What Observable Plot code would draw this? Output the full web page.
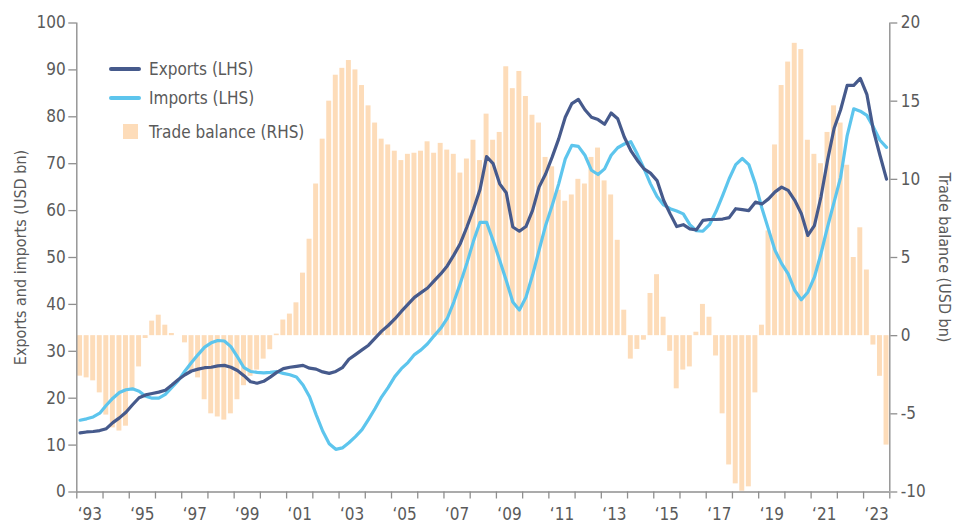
<!DOCTYPE html>
<html>
<head>
<meta charset="utf-8">
<script src="https://cdn.jsdelivr.net/npm/d3@7"></script>
<script src="https://cdn.jsdelivr.net/npm/@observablehq/plot@0.6"></script>
<style>
  html, body { margin: 0; padding: 0; background: #fff; }
  #wrap { position: relative; width: 954px; height: 523px; font-family: "Liberation Sans Narrow", "DejaVu Sans Condensed", "Roboto", sans-serif; color: #5a5a5a; }
  .lg-line { position: absolute; width: 32px; height: 4px; border-radius: 2px; }
  .lg-box { position: absolute; width: 15px; height: 15px; }
  .lg-text { position: absolute; font-size: 17px; line-height: 20px; white-space: nowrap; }
</style>
</head>
<body>
<div id="wrap"></div>
<script>
// ---- data (quarterly, Q1 1993 .. Q4 2023) ----
const startYear = 1993;
const exportsLHS = [
  12.6, 12.8, 12.9, 13.1, 13.5, 14.8, 15.8, 17.0, 18.6, 20.1, 20.7, 21.0,
  21.3, 21.7, 22.8, 24.0, 25.0, 25.8, 26.2, 26.5, 26.6, 26.9, 27.0, 26.6,
  25.9, 24.8, 23.5, 23.2, 23.6, 24.5, 25.5, 26.3, 26.6, 26.8, 27.0, 26.4,
  26.2, 25.6, 25.3, 25.7, 26.5, 28.3, 29.3, 30.3, 31.3, 32.8, 34.3, 35.5,
  36.9, 38.5, 40.0, 41.5, 42.5, 43.5, 45.0, 46.5, 48.2, 50.5, 53.0, 56.5,
  60.3, 64.5, 71.5, 70.0, 65.7, 63.8, 56.5, 55.6, 56.6, 60.0, 65.0, 67.8,
  71.4, 75.3, 79.9, 82.8, 83.7, 81.5, 79.9, 79.4, 78.4, 80.8, 79.6, 75.7,
  72.8, 70.7, 68.9, 68.0, 66.4, 62.2, 59.3, 56.6, 57.0, 56.1, 55.9, 57.9,
  58.1, 58.1, 58.2, 58.5, 60.4, 60.2, 60.0, 61.8, 61.4, 62.5, 64.0, 65.0,
  64.3, 62.2, 59.4, 54.7, 56.8, 62.9, 70.7, 77.5, 81.5, 86.7, 86.7, 88.2,
  84.8, 77.1, 71.8, 66.7
];
const importsLHS = [
  15.3, 15.6, 16.0, 16.8, 18.5, 20.0, 21.2, 21.8, 22.0, 21.5, 20.4, 20.0,
  20.0, 20.8, 22.3, 23.8, 25.8, 27.6, 29.3, 30.9, 31.8, 32.3, 32.2, 31.0,
  28.8, 26.5, 25.7, 25.5, 25.4, 25.5, 25.7, 25.3, 25.0, 24.5, 22.8, 20.3,
  16.5, 13.0, 10.3, 9.1, 9.4, 10.5, 11.8, 13.3, 15.5, 17.8, 20.3, 22.3,
  24.6, 26.3, 27.6, 29.3, 30.3, 31.6, 33.3, 34.9, 37.0, 40.5, 44.5, 48.8,
  53.5, 57.5, 57.5, 53.6, 49.4, 45.1, 40.5, 38.8, 41.5, 46.2, 51.5, 56.8,
  61.1, 65.7, 71.0, 73.9, 73.7, 71.8, 68.6, 67.7, 68.9, 71.8, 73.4, 74.2,
  74.7, 72.0, 69.0, 65.7, 63.0, 61.2, 60.4, 59.9, 59.3, 57.0, 55.7, 55.6,
  57.0, 59.8, 63.2, 66.8, 69.8, 71.1, 69.8, 65.7, 60.5, 56.0, 51.5, 48.7,
  46.5, 43.0, 41.0, 42.6, 45.8, 50.8, 56.5, 61.8, 67.1, 76.0, 81.7, 81.2,
  80.3, 77.8, 75.0, 73.5
];
const tradeBalanceRHS = [
  -2.59, -2.7, -2.89, -3.66, -5.08, -5.9, -6.1, -5.79, -3.5, -2.0, -0.18, 0.93,
  1.31, 0.67, 0.14, 0.0, -0.46, -2.3, -2.7, -4.1, -5.0, -5.2, -5.4, -5.0,
  -4.1, -3.2, -2.6, -2.2, -1.5, -0.9, 0.1, 1.0, 1.38, 2.1, 4.0, 6.17,
  9.7, 12.57, 15.0, 16.66, 17.1, 17.6, 17.0, 16.0, 14.7, 13.6, 12.57, 12.2,
  11.8, 11.2, 11.6, 11.67, 11.8, 12.4, 11.67, 12.3, 11.87, 11.6, 10.4, 11.3,
  12.5, 11.2, 14.17, 12.5, 13.0, 17.2, 15.8, 16.9, 15.3, 14.1, 13.6, 11.4,
  10.8, 9.3, 8.6, 9.0, 10.0, 9.7, 11.4, 12.0, 9.9, 9.0, 6.1, 1.63,
  -1.5, -0.88, -0.29, 2.7, 3.9, 1.18, -1.0, -3.4, -2.2, -2.0, 0.22, 2.0,
  1.18, -1.3, -5.0, -8.27, -9.48, -9.95, -9.67, -3.66, 0.67, 6.7, 12.2, 16.0,
  17.5, 18.7, 18.3, 12.5, 11.6, 11.0, 13.0, 14.7, 13.6, 10.9, 5.0, 6.9,
  4.2, -0.6, -2.6, -7.0
];
const leftTicks = [0, 10, 20, 30, 40, 50, 60, 70, 80, 90, 100];
const rightTicks = [-10, -5, 0, 5, 10, 15, 20];
const yearTicks = d3.range(1993, 2025);
const labelYears = d3.range(1993, 2024, 2);
const seriesNames = ["Exports (LHS)", "Imports (LHS)", "Trade balance (RHS)"];
const axisTitles = ["Exports and imports (USD bn)", "Trade balance (USD bn)"];
const colors = {exp: "#465a8c", imp: "#5dc5ed", tb: "#fddcb9"};

// ---- build ----
const rows = exportsLHS.map((v, i) => ({
  t: startYear + i / 4,
  exp: v,
  imp: importsLHS[i],
  tb: tradeBalanceRHS[i]
}));
// right axis (-10..20) shares the vertical range of the left axis (0..100)
const toLeft = v => (v + 10) * 100 / 30;
const fromLeft = y => y * 30 / 100 - 10;

const axisGrey = "#8f8f8f";
const textGrey = "#5a5a5a";
const fontStack = '"Liberation Sans Narrow", "DejaVu Sans Condensed", Roboto, sans-serif';

const chart = Plot.plot({
  width: 954,
  height: 523,
  marginLeft: 76.3,
  marginRight: 64.7,
  marginTop: 22.5,
  marginBottom: 31.5,
  style: {fontFamily: fontStack, fontSize: "17px", color: textGrey, background: "white"},
  x: {domain: [1993, 2024], axis: null},
  y: {domain: [0, 100], axis: null},
  marks: [
    Plot.rect(rows, {x1: d => d.t, x2: d => d.t + 0.25, y1: toLeft(0), y2: d => toLeft(d.tb), fill: colors.tb, insetLeft: 0.8, insetRight: 0.8}),
    Plot.line(rows, {x: d => d.t + 0.125, y: "imp", stroke: colors.imp, strokeWidth: 3.2, strokeLinejoin: "round"}),
    Plot.line(rows, {x: d => d.t + 0.125, y: "exp", stroke: colors.exp, strokeWidth: 3.2, strokeLinejoin: "round"}),
    Plot.ruleY([0], {stroke: axisGrey, strokeWidth: 1.4}),
    Plot.ruleX([1993, 2024], {stroke: axisGrey, strokeWidth: 1.4}),
    Plot.axisY({anchor: "left", ticks: leftTicks, tickSize: 8, tickPadding: 3, label: null, stroke: axisGrey, fill: textGrey, strokeWidth: 1.3}),
    Plot.axisY({anchor: "right", ticks: rightTicks.map(toLeft), tickFormat: d => String(Math.round(fromLeft(d))), tickSize: 7, tickPadding: 4, label: null, stroke: axisGrey, fill: textGrey, strokeWidth: 1.3}),
    Plot.axisX({ticks: yearTicks, tickFormat: () => "", tickSize: 7, label: null, stroke: axisGrey, strokeWidth: 1.3}),
    Plot.axisX({ticks: labelYears.map(y => y + 0.5), tickFormat: d => "\u2018" + String(Math.floor(d)).slice(2), tickSize: 0, tickPadding: 16, label: null, fill: textGrey}),
    Plot.text([axisTitles[0]], {frameAnchor: "left", textAnchor: "middle", lineAnchor: "middle", rotate: -90, dx: -56, fill: textGrey, fontSize: 16}),
    Plot.text([axisTitles[1]], {frameAnchor: "right", textAnchor: "middle", lineAnchor: "middle", rotate: 90, dx: 54, fill: textGrey, fontSize: 16})
  ]
});

const wrap = document.getElementById("wrap");
wrap.appendChild(chart);

// legend overlay (inside plot area, top-left)
const legendItems = [
  {kind: "line", color: colors.exp, label: seriesNames[0], cy: 69},
  {kind: "line", color: colors.imp, label: seriesNames[1], cy: 98},
  {kind: "box", color: colors.tb, label: seriesNames[2], cy: 132}
];
for (const it of legendItems) {
  const sw = document.createElement("div");
  if (it.kind === "line") {
    sw.className = "lg-line";
    sw.style.left = "109px";
    sw.style.top = (it.cy - 2) + "px";
  } else {
    sw.className = "lg-box";
    sw.style.left = "123px";
    sw.style.top = (it.cy - 8) + "px";
  }
  sw.style.background = it.color;
  wrap.appendChild(sw);
  const tx = document.createElement("div");
  tx.className = "lg-text";
  tx.style.left = "149px";
  tx.style.top = (it.cy - 10) + "px";
  tx.textContent = it.label;
  wrap.appendChild(tx);
}
</script>
</body>
</html>
